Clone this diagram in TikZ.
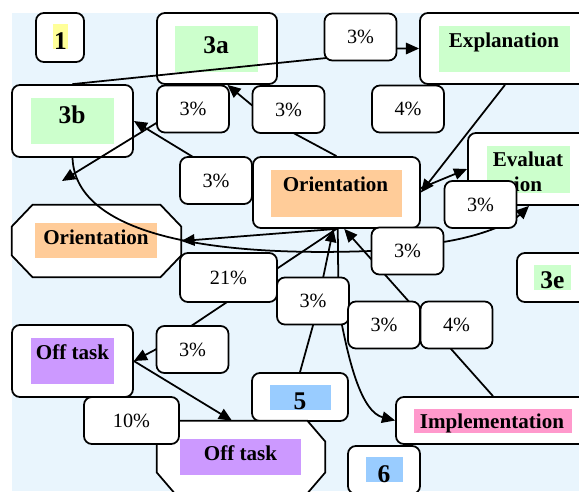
\documentclass[tikz,border=0pt]{standalone}
\usepackage{fontspec}
\setmainfont{Liberation Serif}
\usetikzlibrary{arrows.meta}

\definecolor{bgblue}{HTML}{E9F5FD}
\definecolor{hlgreen}{HTML}{CCFFCC}
\definecolor{hlorange}{HTML}{FFCC99}
\definecolor{hlyellow}{HTML}{FFFF99}
\definecolor{hlpurple}{HTML}{CC99FF}
\definecolor{hlpink}{HTML}{FF99CC}
\definecolor{hlblue}{HTML}{99CCFF}

\pgfdeclarelayer{boxes}
\pgfdeclarelayer{lines}
\pgfsetlayers{boxes,lines,main}

\tikzset{
  wh/.style 2 args={minimum width=#1*0.02cm, minimum height=#2*0.02cm},
  box/.style={draw, fill=white, line width=1pt, rounded corners=4.5pt, inner sep=0pt},
  octframe/.style={inner sep=0pt},
  octline/.style={draw, fill=white, line width=1pt},
  hl/.style={fill=#1, inner sep=0pt},
  pct/.style={box, wh={72}{47}, font=\fontsize{11.5}{13}\selectfont},
  stagetxt/.style={font=\fontsize{12}{14}\selectfont\bfseries, anchor=base, inner sep=0pt},
  codetxt/.style={font=\fontsize{14.5}{16}\selectfont\bfseries, anchor=base, inner sep=0pt},
  link/.style={line width=1pt},
  arr/.style={link, -{Triangle[length=7.5pt,width=6.5pt]}},
}

% octagon round a node: #1 node, #2 corner width, #3 corner height
\newcommand{\octagonround}[3]{%
  \path[octline] ([xshift=#2]#1.north west) -- ([xshift=-#2]#1.north east)
    -- ([yshift=-#3]#1.north east) -- ([yshift=#3]#1.south east)
    -- ([xshift=-#2]#1.south east) -- ([xshift=#2]#1.south west)
    -- ([yshift=#3]#1.south west) -- ([yshift=-#3]#1.north west) -- cycle;}

\begin{document}
\begin{tikzpicture}[x=0.02cm, y=-0.02cm]
\useasboundingbox (0,0) rectangle (579,491);
\begin{pgfonlayer}{boxes}
\clip (0,0) rectangle (579,491);
\fill[white] (0,0) rectangle (579,491);
\fill[bgblue] (12,13) rectangle (579,491);
% phase boxes
\node[box, wh={48}{49}] (one) at (60,37.5) {};
\node[hl=hlyellow, wh={15}{25}] (one-hl) at (60.5,36.5) {};
\node[codetxt] (one-t) at (60.5,49) {1};
\node[box, wh={120}{71}] (n3a) at (217,48.5) {};
\node[hl=hlgreen, wh={83}{46}] (n3a-hl) at (216.5,49) {};
\node[codetxt] (n3a-t) at (216,53) {3a};
\node[box, wh={121}{72}] (n3b) at (72.5,121) {};
\node[hl=hlgreen, wh={83}{46}] (n3b-hl) at (72.5,121) {};
\node[codetxt] (n3b-t) at (72,123) {3b};
\node[box, wh={170}{71}] (expl) at (505,48.5) {};
\node[hl=hlgreen, wh={131}{46}] (expl-hl) at (504.5,49) {};
\node[stagetxt] (expl-t) at (504,47) {Explanation};
\node[box, wh={122}{72}] (eval) at (529,169) {};
\node[hl=hlgreen, wh={83}{47}] (eval-hl) at (528.5,169.5) {};
\node[stagetxt] (eval-t1) at (528,166) {Evaluat};
\node[stagetxt] (eval-t2) at (528,191) {ion};
\node[box, wh={167}{71}] (oriC) at (336.5,192.5) {};
\node[hl=hlorange, wh={131}{47}] (oriC-hl) at (336.5,193.5) {};
\node[stagetxt] (oriC-t) at (335.5,191) {Orientation};
\node[octframe, wh={169}{72}] (oriL) at (96.5,241) {};
\octagonround{oriL}{0.42cm}{0.44cm}
\node[hl=hlorange, wh={122}{35}] (oriL-hl) at (96,240.5) {};
\node[stagetxt] (oriL-t) at (96,244) {Orientation};
\node[box, wh={73}{49}] (n3e) at (553.5,277.5) {};
\node[hl=hlgreen, wh={37}{25}] (n3e-hl) at (552.5,277.5) {};
\node[codetxt] (n3e-t) at (552.5,288) {3e};
\node[box, wh={121}{72}] (offL) at (72.5,361) {};
\node[hl=hlpurple, wh={83}{46}] (offL-hl) at (72.5,361) {};
\node[stagetxt] (offL-t) at (72.5,359) {Off task};
\node[box, wh={96}{48}] (five) at (300,397) {};
\node[hl=hlblue, wh={61}{25}] (five-hl) at (300.5,397.5) {};
\node[codetxt] (five-t) at (300,409) {5};
\node[octframe, wh={168}{72}] (offB) at (241,457) {};
\octagonround{offB}{0.36cm}{0.42cm}
\node[hl=hlpurple, wh={121}{36}] (offB-hl) at (240.5,457) {};
\node[stagetxt] (offB-t) at (240.5,460) {Off task};
\node[box, wh={194}{47}] (impl) at (493,420.5) {};
\node[hl=hlpink, wh={158}{24}] (impl-hl) at (493,421) {};
\node[stagetxt] (impl-t) at (492,428) {Implementation};
\node[box, wh={72}{48}] (six) at (384,470) {};
\node[hl=hlblue, wh={37}{25}] (six-hl) at (384.5,469.5) {};
\node[codetxt] (six-t) at (384,482) {6};
\end{pgfonlayer}

% transition labels
\node[pct] (lA) at (360.5,37) {3\%};
\node[pct] (lB) at (193,109) {3\%};
\node[pct] (lC) at (288.5,109.5) {3\%};
\node[pct] (lD) at (408,109) {4\%};
\node[pct] (lE) at (216,180.5) {3\%};
\node[pct] (lF) at (480.5,204.5) {3\%};
\node[pct] (lG) at (407.5,251) {3\%};
\node[pct, wh={97}{49}] (lH) at (228.5,277.5) {21\%};
\node[pct] (lI) at (313,301) {3\%};
\node[pct] (lJ) at (384,325) {3\%};
\node[pct] (lK) at (456.5,325) {4\%};
\node[pct] (lL) at (192.5,349.5) {3\%};
\node[pct, wh={95}{47}] (lM) at (131.5,420.5) {10\%};

\coordinate (oriL-in) at (62,181);

\begin{pgfonlayer}{lines}
\draw[arr] (n3b.north) -- (lA.210) -- (lA.east |- expl.west) -- (expl.west);
\draw[arr] (oriC.north) -- (lC.-75) -- (lC.173) -- (n3a.-74);
\draw[arr] (oriC.west) -- (lE.135) -- (n3b.east);
\draw[arr] (n3a.-110) -- (lB.201) -- (oriL-in);
% long curve round the left side
\draw[arr] (n3b.south) .. controls (75,225) and (180,258) .. (lG.west)
  -- (lG.14) .. controls (480,236) and (510,224) .. (eval.south);
\draw[arr] (oriC.south) -- (oriL.east);
\draw[arr] (oriC.south) -- (lL.north) -- (lL.west) -- (offL.east);
\draw[arr] (offL.east) -- (offB.104);
\draw[arr] (five.north) -- (lI.south) -- (lI.67) -- (oriC.-95);
\draw[arr] (oriC.-88) -- (lI.44) -- (lI.-40)
  .. controls (350,365) and (362,412) .. (impl.west);
\draw[arr] (impl.north) -- (oriC.-78);
\draw[arr] (expl.south) -- (oriC.east);
\draw[arr] (oriC.3) -- (eval.west);
\end{pgfonlayer}
\end{tikzpicture}
\end{document}
